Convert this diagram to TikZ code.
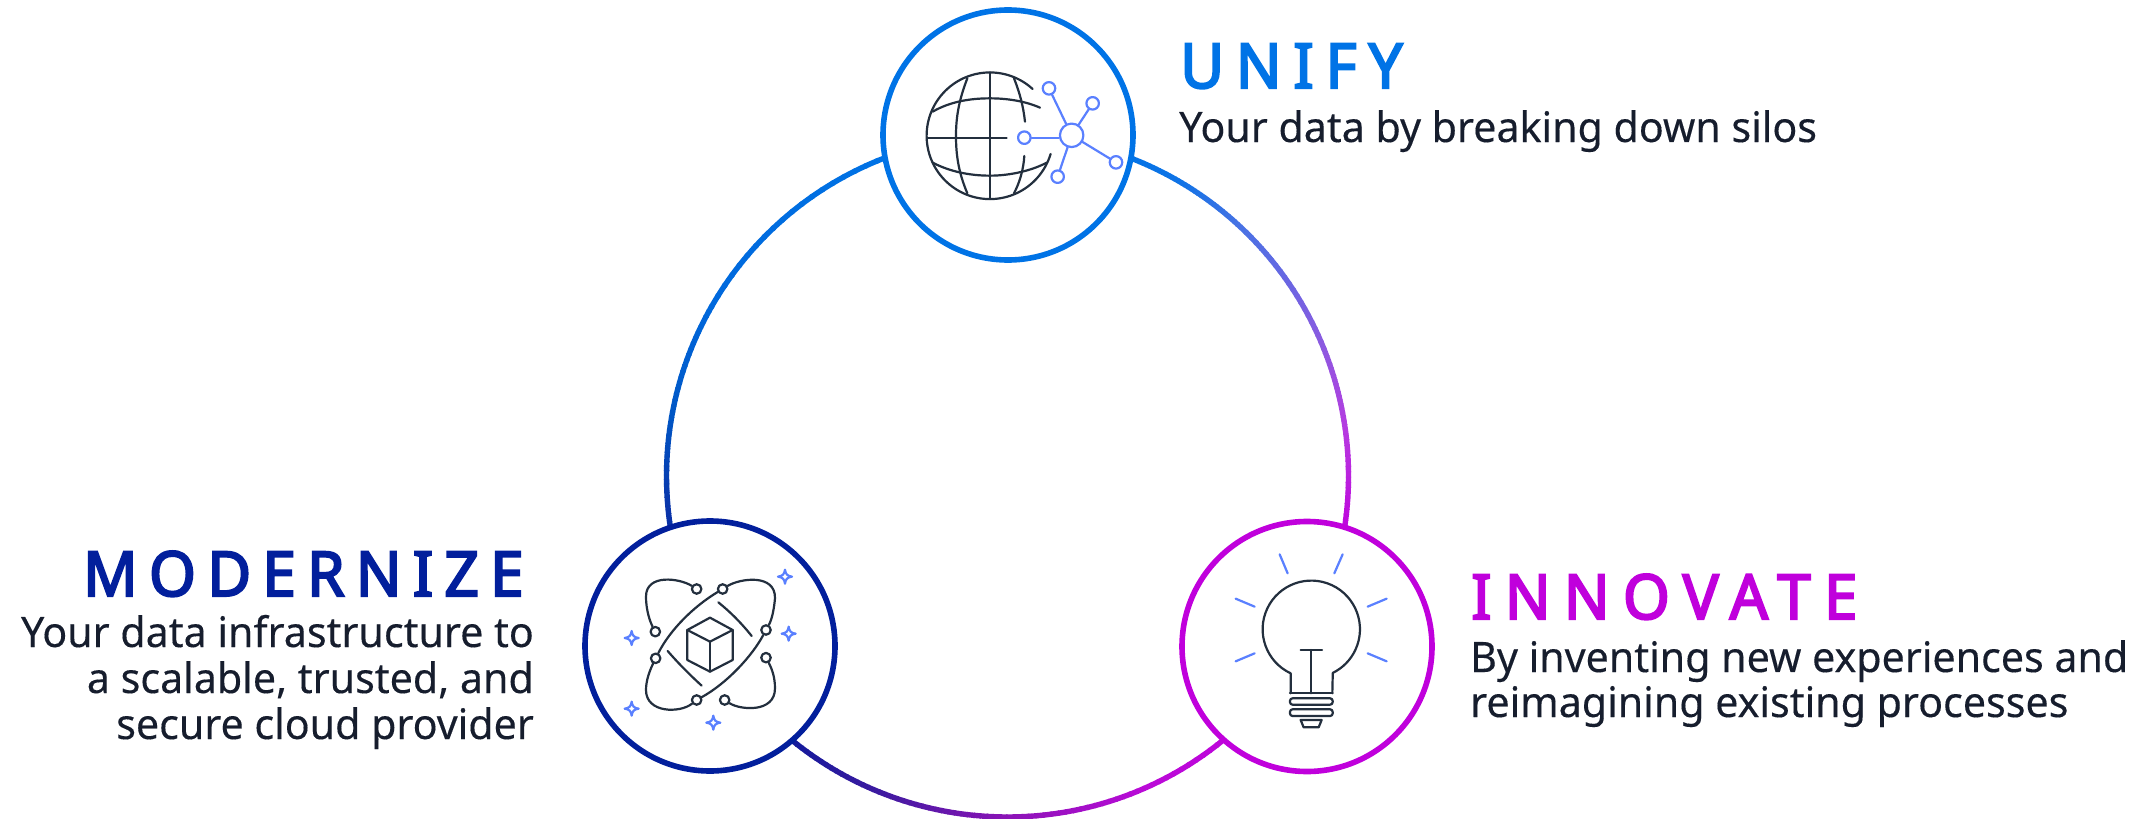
\documentclass[tikz,border=0pt]{standalone}
\usepackage{fontspec}
\setmainfont{Noto Sans}
\newfontfamily\bodyfont[FakeStretch=0.98,FakeBold=0.25]{Noto Sans}
\newfontfamily\titlefontA[LetterSpace=19,FakeStretch=0.97,FakeBold=3.4]{Noto Sans}
\newfontfamily\titlefontB[LetterSpace=18.2,FakeStretch=0.97,FakeBold=3.4]{Noto Sans}
\newfontfamily\titlefontC[LetterSpace=21.5,FakeStretch=0.97,FakeBold=3.4]{Noto Sans}
\definecolor{cunify}{HTML}{0073E6}
\definecolor{cmodern}{HTML}{021F9C}
\definecolor{cinnov}{HTML}{C000DC}
\definecolor{txtdark}{HTML}{161D2D}
\definecolor{icondark}{HTML}{232F3E}
\definecolor{iconblue}{HTML}{5A80FF}
\tikzset{
  bigcircle/.style={circle,draw=#1,fill=white,line width=5.6pt,minimum size=250pt,inner sep=0pt},
  titletext/.style={anchor=base west,inner sep=0pt,text=#1},
  bodytext/.style={inner sep=0pt,text=txtdark,font=\bodyfont\fontsize{42}{46}\selectfont},
  darkline/.style={draw=icondark,line width=2.2pt,line cap=round,line join=round},
  blueline/.style={draw=iconblue,line width=2.2pt,line cap=round,line join=round},
  hubnode/.style={circle,blueline,fill=white,minimum size=23.5pt,inner sep=0pt},
  satnode/.style={circle,blueline,fill=white,minimum size=12.5pt,inner sep=0pt},
  orbnode/.style={circle,darkline,fill=white,minimum size=9.5pt,inner sep=0pt},
  sparkle/.pic={\draw[blueline,fill=white] (0,-21) .. controls (2,-7) and (7,-2) .. (21,0) .. controls (7,2) and (2,7) .. (0,21) .. controls (-2,7) and (-7,2) .. (-21,0) .. controls (-7,-2) and (-2,-7) .. (0,-21) -- cycle;}
}
% draws one ring section as short arcs, blending from colour #3 to colour #4
\newcommand{\ringpart}[4]{%
  \foreach \tt in {0,5,...,95}{%
    \pgfmathsetmacro{\aa}{#1+(#2-#1)*\tt/100}%
    \pgfmathsetmacro{\bb}{#1+(#2-#1)*(\tt+6)/100}%
    \colorlet{segc}{#4!\tt!#3}%
    \draw[segc,line width=5.4pt] (\aa:341) arc[start angle=\aa,end angle=\bb,radius=341];
  }%
}
\begin{document}
\begin{tikzpicture}[x=1pt,y=-1pt]
\useasboundingbox (0,0) rectangle (2145,819);
% ring
\begin{scope}[shift={(1007.5,476)},x=1pt,y=1pt]
  \definecolor{r0}{HTML}{0073E6}
  \definecolor{r1}{HTML}{0F73E6}
  \definecolor{r2}{HTML}{4A72E4}
  \definecolor{r3}{HTML}{8F58E0}
  \definecolor{r4}{HTML}{B63AE0}
  \definecolor{r5}{HTML}{C000DC}
  \definecolor{b1}{HTML}{BB0AD8}
  \definecolor{b2}{HTML}{8A14B6}
  \definecolor{b3}{HTML}{3C1AA0}
  \definecolor{b4}{HTML}{0A1A9A}
  \definecolor{l1}{HTML}{0068DC}
  \definecolor{l2}{HTML}{0055C4}
  \definecolor{l3}{HTML}{0A35AA}
  \definecolor{l4}{HTML}{021F9C}
  \ringpart{72}{60}{r0}{r1}
  \ringpart{60}{47}{r1}{r2}
  \ringpart{47}{22}{r2}{r3}
  \ringpart{22}{8}{r3}{r4}
  \ringpart{8}{-10}{r4}{r5}
  \ringpart{-36}{-65}{r5}{b1}
  \ringpart{-65}{-90}{b1}{b2}
  \ringpart{-90}{-112}{b2}{b3}
  \ringpart{-112}{-132}{b3}{b4}
  \ringpart{108}{150}{r0}{l1}
  \ringpart{150}{170}{l1}{l2}
  \ringpart{170}{185}{l2}{l3}
  \ringpart{185}{198}{l3}{l4}
\end{scope}
% main circles
\node[bigcircle=cunify] (unify) at (1008,135) {};
\node[bigcircle=cmodern] (modernize) at (710,646) {};
\node[bigcircle=cinnov] (innovate) at (1307,646.5) {};
% text
\node[titletext=cunify,font=\titlefontA\fontsize{62}{62}\selectfont] (tunify) at (1180,88) {UNIFY};
\node[bodytext,anchor=base west] (sunify) at (1179,142) {Your data by breaking down silos};
\node[titletext=cmodern,font=\titlefontB\fontsize{62}{62}\selectfont] (tmodern) at (83,596) {MODERNIZE};
\node[bodytext,anchor=base east] (smodern1) at (534,647) {Your data infrastructure to};
\node[bodytext,anchor=base east] (smodern2) at (534,693) {a scalable, trusted, and};
\node[bodytext,anchor=base east] (smodern3) at (534,739) {secure cloud provider};
\node[titletext=cinnov,font=\titlefontC\fontsize{62}{62}\selectfont] (tinnov) at (1471,619) {INNOVATE};
\node[bodytext,anchor=base west] (sinnov1) at (1470,672) {By inventing new experiences and};
\node[bodytext,anchor=base west] (sinnov2) at (1470,717) {reimagining existing processes};
% globe icon
\begin{scope}[x=0.33333pt,y=-0.33333pt,shift={(2580,0)}]
  \draw[darkline] (518,267) arc[start angle=-47.6,end angle=-343.3,radius=190];
  \draw[darkline] (390,217) -- (390,597);
  \draw[darkline] (203,413) -- (440,413);
  \draw[darkline] (322,235) .. controls (297,300) and (288,350) .. (288,408) .. controls (288,470) and (297,520) .. (322,580);
  \draw[darkline] (462,235) .. controls (480,280) and (490,320) .. (495,365);
  \draw[darkline] (493,468) .. controls (490,510) and (480,545) .. (462,580);
  \draw[darkline] (218,335) .. controls (270,305) and (330,295) .. (390,295) .. controls (440,295) and (495,303) .. (540,323);
  \draw[darkline] (218,488) .. controls (270,515) and (330,527) .. (390,527) .. controls (450,527) and (515,512) .. (560,488);
  \node[hubnode] (hub) at (635,406) {};
  \node[satnode] (s1) at (567,265) {};
  \node[satnode] (s2) at (698,310) {};
  \node[satnode] (s3) at (493,413) {};
  \node[satnode] (s4) at (768,487) {};
  \node[satnode] (s5) at (593,530) {};
  \foreach \s in {s1,s2,s4,s5} \draw[blueline] (hub) -- (\s);
  \draw[blueline] (s3) -- (hub.west |- s3);
\end{scope}
% modernize icon
\begin{scope}[x=0.33333pt,y=-0.33333pt,shift={(1710,1530)}]
  \draw[darkline] (420,323) -- (488,360) -- (420,395) -- (352,360) -- cycle;
  \draw[darkline] (352,360) -- (352,450) -- (420,485) -- (488,450) -- (488,360);
  \draw[darkline] (420,395) -- (420,485);
  \node[orbnode] (m1) at (380,237) {};
  \node[orbnode] (m2) at (458,237) {};
  \node[orbnode] (m3) at (256,365) {};
  \node[orbnode] (m4) at (588,360) {};
  \node[orbnode] (m5) at (257,445) {};
  \node[orbnode] (m6) at (588,443) {};
  \node[orbnode] (m7) at (380,570) {};
  \node[orbnode] (m8) at (464,570) {};
  \draw[darkline] (m1) .. controls (330,205) and (228,190) .. (228,260) .. controls (228,300) and (240,335) .. (m3);
  \draw[darkline] (m2) .. controls (510,205) and (617,190) .. (615,265) .. controls (612,300) and (605,330) .. (m4);
  \draw[darkline] (m5) .. controls (240,480) and (228,510) .. (228,540) .. controls (228,610) and (330,610) .. (m7);
  \draw[darkline] (m8) .. controls (510,600) and (615,610) .. (615,535) .. controls (615,500) and (605,475) .. (m6);
  \draw[darkline] (m2) .. controls (370,290) and (300,360) .. (m5);
  \draw[darkline] (m7) .. controls (470,520) and (545,440) .. (m4);
  \draw[darkline] (445,277) .. controls (480,305) and (515,340) .. (545,378);
  \draw[darkline] (293,423) .. controls (325,460) and (360,495) .. (395,527);
  \pic at (645,200) {sparkle};
  \pic at (656,371) {sparkle};
  \pic at (185,384) {sparkle};
  \pic at (185,596) {sparkle};
  \pic at (430,638) {sparkle};
\end{scope}
% bulb icon
\begin{scope}[x=0.33333pt,y=-0.33333pt,shift={(3510,1530)}]
  \draw[darkline] (362,550) -- (362,490) arc[start angle=115.1,end angle=423.8,radius=146] -- (487,550);
  \draw[darkline] (360,550) -- (488,550);
  \draw[darkline] (423,420) -- (423,550);
  \draw[darkline] (392,420) -- (456,420);
  \draw[darkline,rounded corners=2.5pt] (360,565) rectangle (488,584);
  \draw[darkline,rounded corners=2.5pt] (360,598) rectangle (488,618);
  \draw[darkline] (392,630) -- (455,630) -- (446,652) -- (401,652) -- cycle;
  \draw[blueline] (329,133) -- (353,190);
  \draw[blueline] (518,133) -- (493,190);
  \draw[blueline] (197,266) -- (254,290);
  \draw[blueline] (650,266) -- (593,290);
  \draw[blueline] (197,454) -- (254,430);
  \draw[blueline] (650,454) -- (593,430);
\end{scope}
\end{tikzpicture}
\end{document}
